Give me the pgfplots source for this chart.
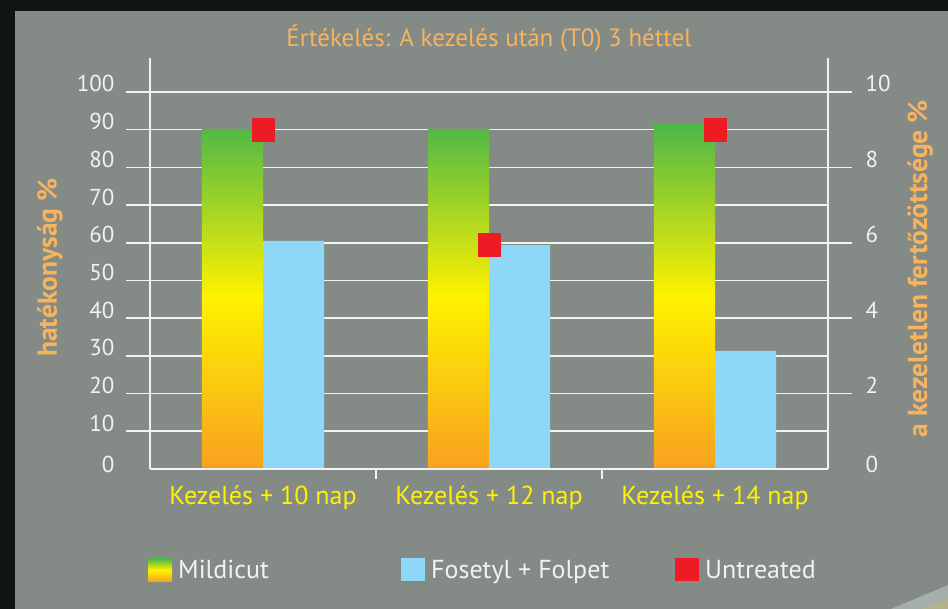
\documentclass[border=0pt]{standalone}
\usepackage{pgfplots}
\pgfplotsset{compat=1.18}
\usepackage{fontspec}
\setmainfont{PT Sans}
\definecolor{panel}{RGB}{132,139,134}
\definecolor{darkbg}{RGB}{14,21,19}
\definecolor{torange}{RGB}{247,180,92}
\definecolor{xyellow}{RGB}{255,242,0}
\definecolor{mblue}{RGB}{141,216,246}
\definecolor{mred}{RGB}{237,28,36}
\definecolor{morange}{RGB}{247,161,31}
\definecolor{myellow}{RGB}{255,242,0}
\definecolor{mgreen}{RGB}{76,183,72}
\definecolor{gridw}{RGB}{242,242,242}
\definecolor{lightwedge}{RGB}{164,174,170}
\definecolor{yellowwedge}{RGB}{180,178,138}
\pgfdeclareverticalshading{mildshade}{100bp}{color(0bp)=(morange); color(25bp)=(morange); color(50bp)=(myellow); color(75bp)=(mgreen); color(100bp)=(mgreen)}
\begin{document}
\begin{tikzpicture}[x=1pt,y=1pt]
\useasboundingbox (0,0) rectangle (948,609);
\fill[darkbg] (0,0) rectangle (948,609);
\fill[panel] (15,0) rectangle (948,598);
\fill[lightwedge] (891,0) -- (948,24) -- (948,0) -- cycle;
\fill[yellowwedge] (920,0) -- (948,9) -- (948,0) -- cycle;
\pgfplotsset{common/.style={scale only axis, width=678pt, height=411pt, at={(150pt,140pt)}, anchor=south west, xmin=-0.5, xmax=2.5,
  axis line style={gridw, line width=1.6pt, -}, tick style={gridw, line width=1.6pt}, tick align=outside,
  /pgf/number format/assume math mode=true,
  ticklabel style={font=\fontsize{23}{23}\selectfont, text=gridw}}}
\begin{axis}[common, ymin=0, ymax=109, axis x line*=bottom, axis y line*=left,
  ytick={10,20,...,100}, extra y ticks={0}, extra y tick style={major tick length=0pt, yticklabel style={xshift=-24pt, yshift=-3pt}},
  major tick length=24pt, ymajorgrids, grid style={gridw, line width=1.6pt},
  yticklabel style={yshift=8pt, xshift=-8pt},
  xtick={0,1,2}, xticklabels={Kezelés + 10 nap, Kezelés + 12 nap, Kezelés + 14 nap},
  xtick style={draw=none},
  xticklabel style={font=\fontsize{26}{26}\selectfont, text=xyellow, yshift=11pt},
  title={Értékelés: A kezelés után (T0) 3 héttel},
  title style={font=\fontsize{25}{25}\selectfont, text=torange, at={(0.5,1)}, anchor=center, yshift=14pt},
  ylabel={hatékonyság \%},
  ylabel style={font=\bfseries\fontsize{27.5}{27.5}\selectfont, text=torange, at={(axis description cs:-0.1475,0.49)}, anchor=center}]
\addplot[ybar, bar width=0.27, bar shift=-0.135, draw=none, shade, shading=mildshade] coordinates {(0,90.2) (1,90.2) (2,91.6)};
\addplot[ybar, bar width=0.27, bar shift=0.135, draw=none, fill=mblue] coordinates {(0,60.5) (1,59.4) (2,31.3)};
\end{axis}
\begin{axis}[common, ymin=0, ymax=109, axis x line*=bottom, hide y axis, xtick={0.5,1.5}, xticklabels={}, major tick length=10pt]
\end{axis}
\begin{axis}[common, ymin=0, ymax=10.9, axis x line=none, axis y line*=right,
  ytick={2,4,...,10}, extra y ticks={0}, extra y tick style={major tick length=0pt, yticklabel style={xshift=24pt, yshift=-3pt}},
  major tick length=24pt, yticklabel style={yshift=8pt, xshift=10pt},
  ylabel={a kezeletlen fertőzöttsége \%},
  ylabel style={font=\bfseries\fontsize{27.5}{27.5}\selectfont, text=torange, at={(axis description cs:1.1357,0.487)}, anchor=center},
  legend columns=3, legend cell align=left,
  legend style={at={(axis description cs:0,0)}, anchor=west, xshift=-2pt, yshift=-101pt, draw=none, fill=none, inner sep=0pt,
    font=\fontsize{26}{26}\selectfont, text=gridw, /tikz/every even column/.append style={column sep=0pt}}]
\addlegendimage{legend image code/.code={\shade[shading=mildshade, draw=none] (0pt,-11.5pt) rectangle (24pt,11.5pt);}}
\addlegendentry{\makebox[225pt][l]{\hspace{4pt}Mildicut}}
\addlegendimage{legend image code/.code={\fill[mblue, draw=none] (0pt,-11.5pt) rectangle (24pt,11.5pt);}}
\addlegendentry{\makebox[246pt][l]{\hspace{4pt}Fosetyl + Folpet}}
\addplot[color=mred, only marks, mark=square*, mark size=11.3pt, mark options={fill=mred, draw=mred, line width=0.4pt},
  legend image code/.code={\fill[mred, draw=none] (0pt,-11.5pt) rectangle (24pt,11.5pt);}] coordinates {(0,9.0) (1,5.95) (2,9.0)};
\addlegendentry{\hspace{4pt}Untreated}
\end{axis}
\end{tikzpicture}
\end{document}
